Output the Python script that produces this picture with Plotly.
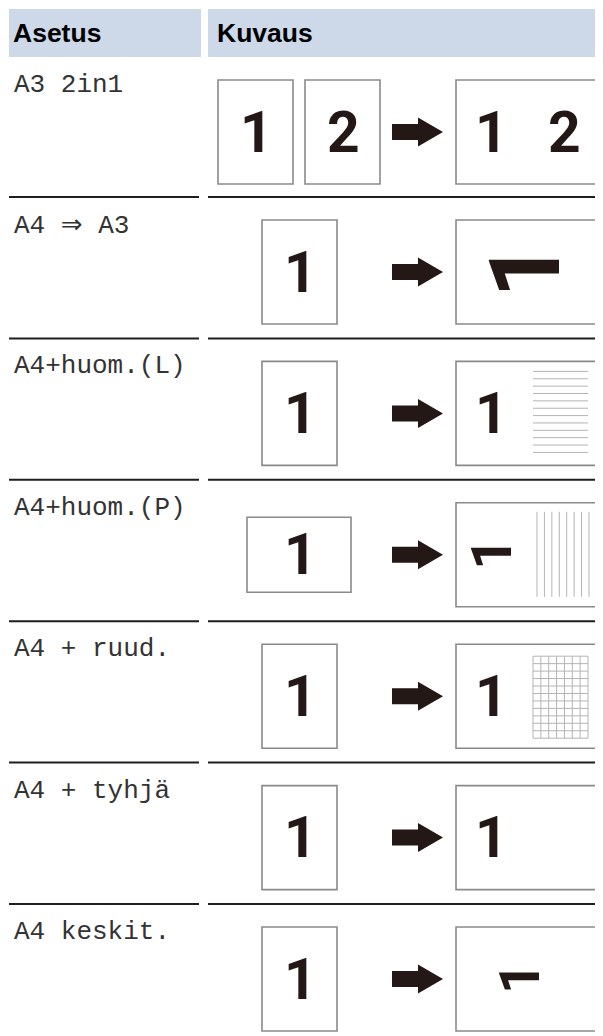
import plotly.graph_objects as go

W, H = 603, 1036
OFF = 8  # browser body margin: page pixel = axis coordinate

# ---- table content ----
headers = ["Asetus", "Kuvaus"]
settings = ["A3 2in1", "A4 <span style=\"font-family:'DejaVu Sans'\">⇒</span> A3",
            "A4+huom.(L)", "A4+huom.(P)",
            "A4 + ruud.", "A4 + tyhjä", "A4 keskit."]
input_digits = [["1", "2"], ["1"], ["1"], ["1"], ["1"], ["1"], ["1"]]
input_orient = ["portrait", "portrait", "portrait", "landscape",
                "portrait", "portrait", "portrait"]
output_digits = [["1", "2"], ["1"], ["1"], ["1"], ["1"], ["1"], ["1"]]
output_rotated = [False, True, False, True, False, False, True]
output_extra = ["none", "none", "hlines", "vlines", "grid", "none", "none"]
note_hlines = 12
note_vlines = 8
grid_cols = 7
grid_rows = 11

# ---- layout constants ----
HEAD_TOP, HEAD_BOT = 9, 57
LEFT_X0, LEFT_X1 = 9, 201
RIGHT_X0 = 208
FIRST_SEP, ROW_H = 197, 141.4
BOX_OFF, BOX_H = 23, 104
PW = 75
OUT_X0, OUT_X1 = 456, 599

HEAD_BG = "#cdd8e9"
SEP_COL = "#1e1e1e"
BOX_COL = "#8a8a8a"
INK = "#231815"
NOTE_COL = "#b4b4b4"
DIGIT_FONT = "Roboto, Inter, 'Noto Sans', sans-serif"
HEAD_FONT = "'Liberation Sans', Arial, sans-serif"
MONO_FONT = "'Liberation Mono', 'Courier New', monospace"

shapes = []
annotations = []


def rect(x0, y0, x1, y1, line=BOX_COL, fill=None, lw=1.6):
    d = dict(type="rect", xref="x", yref="y", x0=x0, y0=y0, x1=x1, y1=y1,
             line=dict(color=line, width=lw), layer="above")
    if fill:
        d["fillcolor"] = fill
        d["line"] = dict(width=0)
        d["layer"] = "below"
    shapes.append(d)


def line(x0, y0, x1, y1, col, lw):
    shapes.append(dict(type="line", xref="x", yref="y", x0=x0, y0=y0,
                       x1=x1, y1=y1, line=dict(color=col, width=lw)))


def text(x, y, s, size, family, color, bold=False, xanchor="center", angle=0):
    annotations.append(dict(
        x=x, y=y, xref="x", yref="y", text=s, showarrow=False,
        xanchor=xanchor, yanchor="middle", textangle=angle,
        font=dict(family=family, size=size, color=color,
                  weight="bold" if bold else "normal")))


def digit(x, y, s, size, angle=0):
    text(x, y, s, size, DIGIT_FONT, INK, True, angle=angle)


def arrow(yc):
    xs, xh, xt = 392, 418, 443
    sh, hh = 8, 14.5
    path = (f"M {xs},{yc - sh} L {xh},{yc - sh} L {xh},{yc - hh} L {xt},{yc} "
            f"L {xh},{yc + hh} L {xh},{yc + sh} L {xs},{yc + sh} Z")
    shapes.append(dict(type="path", xref="x", yref="y", path=path,
                       fillcolor=INK, line=dict(width=0)))


# header
rect(LEFT_X0, HEAD_TOP, LEFT_X1, HEAD_BOT, fill=HEAD_BG)
rect(RIGHT_X0, HEAD_TOP, W + 2, HEAD_BOT, fill=HEAD_BG)
text(11, 33, headers[0], 26.5, HEAD_FONT, "#000", True, xanchor="left")
text(215, 33, headers[1], 26.5, HEAD_FONT, "#000", True, xanchor="left")

rot_pos = {1: (525, 98, -2), 3: (492, 56, -1), 6: (520, 55, -1)}

for i, label in enumerate(settings):
    top = HEAD_BOT if i == 0 else FIRST_SEP + (i - 1) * ROW_H
    if i > 0:
        line(LEFT_X0, top, 199, top, SEP_COL, 2)
        line(RIGHT_X0, top, W + 2, top, SEP_COL, 2)
    by0 = top + BOX_OFF
    yc = by0 + BOX_H / 2
    # setting label
    text(12, by0 + 5, label, 26, MONO_FONT, "#333333", xanchor="left")
    # input pages
    digs = input_digits[i]
    if len(digs) == 2:
        for k, d in enumerate(digs):
            x0 = 218 + k * 87
            rect(x0, by0, x0 + PW, by0 + BOX_H)
            digit(x0 + PW / 2 + 1, yc, d, 57)
    elif input_orient[i] == "landscape":
        rect(247, yc - PW / 2, 351, yc + PW / 2)
        digit(300, yc, digs[0], 57)
    else:
        rect(262, by0, 262 + PW, by0 + BOX_H)
        digit(262 + PW / 2 + 1, yc, digs[0], 57)
    arrow(yc)
    # output page
    rect(OUT_X0, by0, OUT_X1, by0 + BOX_H)
    od = output_digits[i]
    if len(od) == 2:
        digit(491, yc, od[0], 57)
        digit(564, yc, od[1], 57)
    elif output_rotated[i]:
        rx, rs, dy = rot_pos[i]
        digit(rx, yc + dy, od[0], rs, angle=-90)
    else:
        digit(491, yc, od[0], 57)
    extra = output_extra[i]
    if extra == "hlines":
        ya, yb = by0 + 10, by0 + 91
        for k in range(note_hlines):
            yy = ya + k * (yb - ya) / (note_hlines - 1)
            line(533, yy, 588, yy, NOTE_COL, 1)
    elif extra == "vlines":
        ya, yb = by0 + 9, by0 + 94
        for k in range(note_vlines):
            xx = 537 + k * (589 - 537) / (note_vlines - 1)
            line(xx, ya, xx, yb, NOTE_COL, 1)
    elif extra == "grid":
        ya, yb = by0 + 12, by0 + 94
        for k in range(grid_cols + 1):
            xx = 533 + k * (588 - 533) / grid_cols
            line(xx, ya, xx, yb, NOTE_COL, 1)
        for k in range(grid_rows + 1):
            yy = ya + k * (yb - ya) / grid_rows
            line(533, yy, 588, yy, NOTE_COL, 1)

fig = go.Figure()
fig.update_layout(
    width=W - OFF, height=H - OFF, margin=dict(l=0, r=0, t=0, b=0),
    paper_bgcolor="white", plot_bgcolor="white",
    xaxis=dict(range=[OFF, W], visible=False, fixedrange=True),
    yaxis=dict(range=[H, OFF], visible=False, fixedrange=True),
    shapes=shapes, annotations=annotations, showlegend=False,
)
fig.write_html("out.html")
